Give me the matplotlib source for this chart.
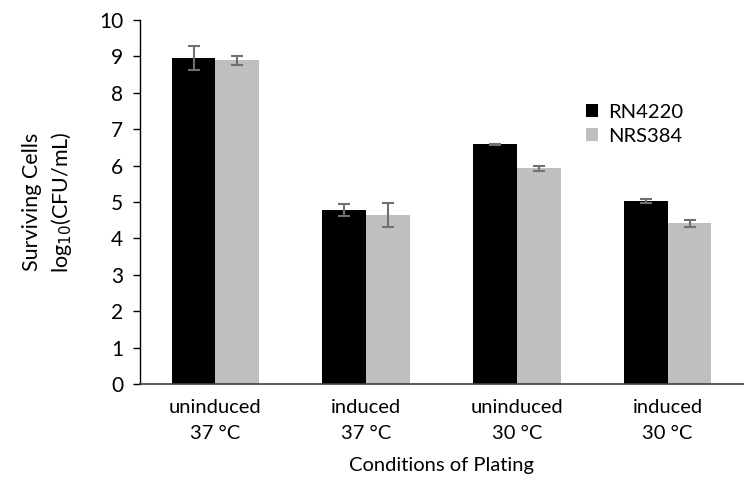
import numpy as np
import matplotlib
matplotlib.use("Agg")
import matplotlib.pyplot as plt

plt.rcParams['font.family'] = ['Lato', 'DejaVu Sans']

conditions = ["uninduced\n37 °C", "induced\n37 °C", "uninduced\n30 °C", "induced\n30 °C"]
rn4220 = [8.97, 4.78, 6.58, 5.02]
rn4220_err = [0.33, 0.17, 0.02, 0.05]
nrs384 = [8.89, 4.64, 5.93, 4.41]
nrs384_err = [0.13, 0.32, 0.07, 0.09]

fig = plt.figure(figsize=(7.51, 4.86), dpi=100)
ax = fig.add_axes([0.1864, 0.2099, 0.8030, 0.7489])

x = np.arange(len(conditions))
w = 0.29
err_kw = dict(ecolor="#707070", elinewidth=1.5, capsize=4, capthick=1.5)
ax.bar(x - w / 2, rn4220, w, yerr=rn4220_err, color="black", label="RN4220", error_kw=err_kw)
ax.bar(x + w / 2, nrs384, w, yerr=nrs384_err, color="#bfbfbf", label="NRS384", error_kw=err_kw)

ax.set_xlim(-0.5, len(conditions) - 0.5)
ax.set_ylim(0, 10)
ax.set_yticks(range(0, 11))
ax.set_xticks(x)
ax.set_xticklabels(conditions, fontsize=14.5, linespacing=1.6)
ax.tick_params(axis="x", length=0, pad=11)
ax.tick_params(axis="y", direction="out", length=5, width=1, labelsize=15, pad=7)

for s in ["top", "right"]:
    ax.spines[s].set_visible(False)
ax.spines["left"].set_linewidth(1)
ax.spines["bottom"].set_linewidth(1.2)
ax.spines["bottom"].set_color("#404040")

ax.set_ylabel("Surviving Cells\nlog$_{10}$(CFU/mL)", fontsize=15.5, labelpad=18, linespacing=1.35)
ax.set_xlabel("Conditions of Plating", fontsize=14.5, labelpad=11)

ax.legend(loc="upper left", bbox_to_anchor=(0.71, 0.82), frameon=False, fontsize=14.5,
          handlelength=0.6, handleheight=0.6, handletextpad=0.5, labelspacing=0.35)

fig.savefig("out.png", dpi=100)
